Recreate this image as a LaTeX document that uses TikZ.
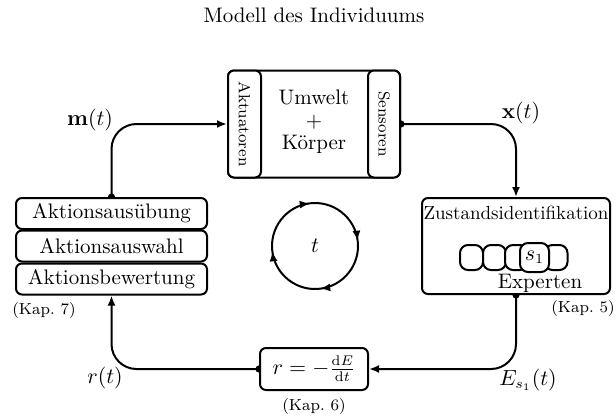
\documentclass[tikz,border=0pt]{standalone}
\usepackage{graphicx}
\usetikzlibrary{arrows.meta,decorations.markings,backgrounds}
\begin{document}
\begin{tikzpicture}[x=0.5pt,y=0.5pt,
  box/.style={draw,line width=1pt,rounded corners=3pt,fill=white,inner sep=0pt},
  ex/.style={draw,line width=1pt,rounded corners=4pt,fill=white,minimum width=11.5pt,minimum height=12.5pt,inner sep=0pt},
  conn/.style={line width=1pt,rounded corners=12.5pt,{Circle[length=3.5pt]}-{Latex[length=5pt,width=4pt]},shorten <=-1.75pt},
  big/.style={font=\fontsize{10.5}{11.3}\selectfont},
  small/.style={font=\fontsize{8}{9.6}\selectfont},
]
\useasboundingbox (0,0) rectangle (616,-419);
\node[font=\fontsize{10.5}{12}\selectfont] (title) at (314,-15) {Modell des Individuums};
% environment
\node[box,minimum width=86pt,minimum height=53.5pt] (env) at (314,-124) {};
\node[box,small,minimum width=16.5pt,minimum height=53.5pt] (akt) at (244.5,-124) {\rotatebox{-90}{Aktuatoren}};
\node[box,small,minimum width=16pt,minimum height=53.5pt] (sen) at (384,-124) {\rotatebox{-90}{Sensoren}};
\node[big,align=center] (uk) at (314,-122) {Umwelt\\+\\Körper};
% left stack
\node[box,big,minimum width=95.5pt,minimum height=15.5pt] (aus) at (111.5,-213.5) {Aktionsausübung};
\node[box,big,minimum width=95.5pt,minimum height=15.5pt] (wahl) at (111.5,-246) {Aktionsauswahl};
\node[box,big,minimum width=95.5pt,minimum height=15.5pt] (bew) at (111.5,-279) {Aktionsbewertung};
% right box
\node[box,minimum width=94pt,minimum height=48pt] (zus) at (516,-246) {};
\node[font=\fontsize{9.5}{11}\selectfont] (zl) at (516,-213) {Zustandsidentifikation};
\node[ex] (e1) at (471.5,-257.5) {};
\node[ex] (e2) at (494.5,-257.5) {};
\node[ex] (e3) at (516.5,-257.5) {};
\node[ex] (e4) at (556,-257.5) {};
\node[ex,big,minimum width=14.5pt,minimum height=14.5pt] (s1) at (534.5,-257.5) {$s_1$};
\node[big] (expl) at (540,-283) {Experten};
% formula
\node[box,big,minimum width=54pt,minimum height=21pt] (form) at (314,-369) {$r=-\frac{\mathrm{d}E}{\mathrm{d}t}$};
% chapter labels
\node[small] (k7) at (44,-310) {(Kap.~7)};
\node[small] (k5) at (583,-308) {(Kap.~5)};
\node[small] (k6) at (314,-406) {(Kap.~6)};
% signal labels
\node[big] (ml) at (90,-120) {$\mathbf{m}(t)$};
\node[big] (xl) at (521,-113) {$\mathbf{x}(t)$};
\node[big] (rl) at (105,-378) {$r(t)$};
\node[big] (el) at (528,-380) {$E_{s_1}(t)$};
% time cycle
\coordinate (cc) at (315,-246);
\node[big] (tl) at (cc) {$t$};
\draw[line width=1pt,postaction=decorate,decoration={markings,
  mark=at position 0.125 with {\arrow{Latex[length=5pt,width=4pt]}},
  mark=at position 0.375 with {\arrow{Latex[length=5pt,width=4pt]}},
  mark=at position 0.625 with {\arrow{Latex[length=5pt,width=4pt]}},
  mark=at position 0.875 with {\arrow{Latex[length=5pt,width=4pt]}}}]
  (cc) ++(142:21.5pt) arc[start angle=142,end angle=-218,radius=21.5pt];
% connectors
\begin{scope}[on background layer]
\draw[conn] (aus.north) |- (akt.west);
\draw[conn] (sen.east) -| (zus.north);
\draw[conn] (zus.south) |- (form.east);
\draw[conn] (form.west) -| (bew.south);
\end{scope}
\end{tikzpicture}
\end{document}
